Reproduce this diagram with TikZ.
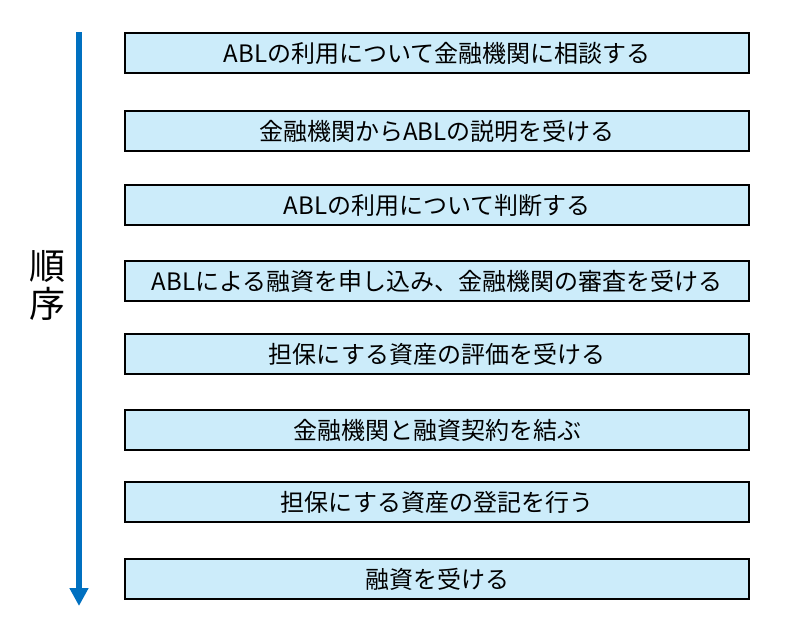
\documentclass[tikz,border=0pt]{standalone}
\usepackage{fontspec}
\setmainfont{Noto Sans CJK JP}
\usetikzlibrary{arrows.meta}
\definecolor{boxfill}{HTML}{CCECFA}
\definecolor{arrowblue}{HTML}{0070C0}
\begin{document}
\begin{tikzpicture}[x=1pt,y=-1pt,
  stepbox/.style={draw=black,line width=2pt,fill=boxfill,minimum width=624pt,minimum height=40pt,inner sep=0pt,font=\fontsize{24}{26}\selectfont,anchor=north west},
  lbl/.style={font=\fontsize{36}{38}\selectfont,inner sep=0pt}]
\useasboundingbox (0,0) rectangle (801,641);
\node[stepbox] (b1) at (124,32) {ABLの利用について金融機関に相談する};
\node[stepbox] (b2) at (124,110) {金融機関からABLの説明を受ける};
\node[stepbox] (b3) at (124,184) {ABLの利用について判断する};
\node[stepbox] (b4) at (124,260) {ABLによる融資を申し込み、金融機関の審査を受ける};
\node[stepbox] (b5) at (124,333) {担保にする資産の評価を受ける};
\node[stepbox] (b6) at (124,409) {金融機関と融資契約を結ぶ};
\node[stepbox] (b7) at (124,481) {担保にする資産の登記を行う};
\node[stepbox] (b8) at (124,558) {融資を受ける};
\coordinate (as) at (79,32);
\coordinate (ae) at (79,606);
\draw[arrowblue,line width=5.5pt,-{Triangle[width=18pt,length=18pt]}] (as) -- (ae);
\node[lbl] (l1) at (47,266) {順};
\node[lbl] (l2) at (47,304) {序};
\end{tikzpicture}
\end{document}
